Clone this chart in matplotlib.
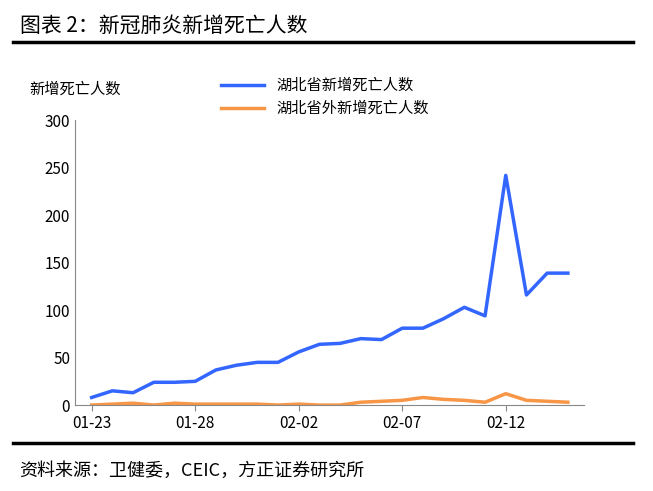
import matplotlib.pyplot as plt
import matplotlib.lines as mlines

plt.rcParams['font.family'] = 'Noto Sans CJK SC'

dates = ['01-23', '01-24', '01-25', '01-26', '01-27', '01-28', '01-29', '01-30',
         '01-31', '02-01', '02-02', '02-03', '02-04', '02-05', '02-06', '02-07',
         '02-08', '02-09', '02-10', '02-11', '02-12', '02-13', '02-14', '02-15']
hubei = [8, 15, 13, 24, 24, 25, 37, 42, 45, 45, 56, 64, 65, 70, 69, 81,
         81, 91, 103, 94, 242, 116, 139, 139]
outside = [0, 1, 2, 0, 2, 1, 1, 1, 1, 0, 1, 0, 0, 3, 4, 5,
           8, 6, 5, 3, 12, 5, 4, 3]
tick_labels = ['01-23', '01-28', '02-02', '02-07', '02-12']

fig = plt.figure(figsize=(6.53, 4.91), dpi=100)
ax = fig.add_axes([0.115, 0.175, 0.78, 0.58])

x = list(range(len(dates)))
ax.plot(x, hubei, color='#3366FF', lw=2.5, label='湖北省新增死亡人数')
ax.plot(x, outside, color='#F79646', lw=2.5, label='湖北省外新增死亡人数')

ax.set_ylim(0, 300)
ax.set_yticks(range(0, 301, 50))
ax.set_xlim(-0.8, len(dates) - 0.2)
ax.set_xticks([dates.index(t) for t in tick_labels])
ax.set_xticklabels(tick_labels)
ax.tick_params(labelsize=11, length=0)
ax.tick_params(axis='x', direction='out', length=4, color='#888888')
for s in ['top', 'right']:
    ax.spines[s].set_visible(False)
ax.spines['left'].set_color('#888888')
ax.spines['bottom'].set_color('#888888')

ax.legend(loc='upper left', bbox_to_anchor=(0.26, 1.2), frameon=False,
          fontsize=11, handlelength=2.8, labelspacing=0.4)
fig.text(0.045, 0.81, '新增死亡人数', fontsize=11)

fig.text(0.03, 0.935, '图表 2：新冠肺炎新增死亡人数', fontsize=15)
fig.add_artist(mlines.Line2D([0.02, 0.97], [0.915, 0.915], color='black', lw=2.5))
fig.add_artist(mlines.Line2D([0.02, 0.97], [0.098, 0.098], color='black', lw=2.5))
fig.text(0.03, 0.03, '资料来源：卫健委，CEIC，方正证券研究所', fontsize=13,
         fontstyle='italic')

fig.savefig('out.png')
